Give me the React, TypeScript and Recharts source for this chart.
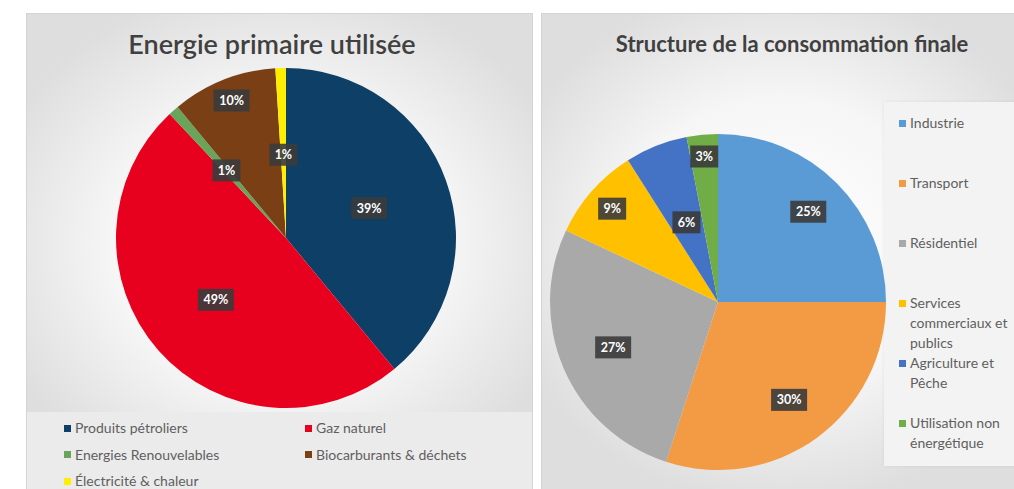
import React from 'react';
import { PieChart, Pie, Cell, Legend } from 'recharts';

// Energie primaire utilisée
const primaryNames = ['Produits pétroliers', 'Gaz naturel', 'Energies Renouvelables', 'Biocarburants & déchets', 'Électricité & chaleur'];
const primaryValues = [39, 49, 1, 10, 1];
const primaryColors = ['#0e3f66', '#e8001f', '#6aa35a', '#7b3f16', '#ffee00'];

// Structure de la consommation finale
const finalNames = ['Industrie', 'Transport', 'Résidentiel', 'Services commerciaux et publics', 'Agriculture et Pêche', 'Utilisation non énergétique'];
const finalValues = [25, 30, 27, 9, 6, 3];
const finalColors = ['#5b9bd5', '#f39a44', '#a9a9a9', '#ffc000', '#4472c4', '#70ad47'];

const primaryData = primaryNames.map((name, i) => ({ name, value: primaryValues[i] }));
const finalData = finalNames.map((name, i) => ({ name, value: finalValues[i] }));

// where Excel put each data label, as a fraction of the radius
const primaryLabelPos: Record<string, number> = {
  'Produits pétroliers': 0.52,
  'Gaz naturel': 0.55,
  'Energies Renouvelables': 0.53,
  'Biocarburants & déchets': 0.87,
  'Électricité & chaleur': 0.49,
};
const finalLabelPos: Record<string, number> = {
  'Industrie': 0.76,
  'Transport': 0.72,
  'Résidentiel': 0.68,
  'Services commerciaux et publics': 0.84,
  'Agriculture et Pêche': 0.51,
  'Utilisation non énergétique': 0.87,
};

const RADIAN = Math.PI / 180;
const FONT = 'Lato, "Open Sans", sans-serif';

const makeLabel = (pos: Record<string, number>) => (props: any) => {
  const { cx, cy, midAngle, outerRadius, name, value } = props;
  const r = outerRadius * (pos[name] ?? 0.55);
  const x = cx + r * Math.cos(-midAngle * RADIAN);
  const y = cy + r * Math.sin(-midAngle * RADIAN);
  const text = `${value}%`;
  const w = text.length * 8 + 12;
  return (
    <g>
      <rect x={x - w / 2} y={y - 11} width={w} height={22} fill="#3b3b3b" fillOpacity={0.9} />
      <text x={x} y={y} textAnchor="middle" dominantBaseline="central" fill="#ffffff" fontSize={12.5} fontWeight="bold" fontFamily={FONT}>
        {text}
      </text>
    </g>
  );
};

// recharts sorts legend items by name; put them back in series order
const inOrder = (payload: any[] | undefined, names: string[]) =>
  [...(payload || [])].sort((a, b) => names.indexOf(a.value) - names.indexOf(b.value));

const PrimaryLegend = (props: any) => (
  <div style={{ display: 'grid', gridTemplateColumns: '241px 220px', fontFamily: FONT, fontSize: 14, color: '#5f5f5f' }}>
    {inOrder(props.payload, primaryNames).map((entry: any, i: number) => (
      <div key={i} style={{ height: 26.5, lineHeight: '26.5px', whiteSpace: 'nowrap' }}>
        <span style={{ display: 'inline-block', width: 7, height: 7, background: entry.color, marginRight: 4, verticalAlign: 'middle', position: 'relative', top: -1 }} />
        {entry.value}
      </div>
    ))}
  </div>
);

const FinalLegend = (props: any) => (
  <div style={{ fontFamily: FONT, fontSize: 14, color: '#5f5f5f' }}>
    {inOrder(props.payload, finalNames).map((entry: any, i: number) => (
      <div key={i} style={{ height: 60, lineHeight: '20px', display: 'flex', alignItems: 'flex-start' }}>
        <span style={{ display: 'inline-block', width: 7, height: 7, background: entry.color, marginTop: 7, marginRight: 4, flex: 'none' }} />
        <span style={{ width: 104 }}>{entry.value}</span>
      </div>
    ))}
  </div>
);

const panelBg = 'radial-gradient(ellipse 60% 55% at 50% 48%, #ffffff 0%, #f6f6f6 55%, #dedede 100%)';

const App: React.FC = () => {
  return (
    <div style={{ position: 'absolute', left: 0, top: 0, width: 1014, height: 489, overflow: 'hidden', background: '#ffffff', fontFamily: FONT }}>
      {/* Left panel */}
      <div style={{ position: 'absolute', left: 26, top: 13, width: 507, height: 480, background: panelBg, border: '1px solid #d4d4d4', boxSizing: 'border-box' }}>
        <div style={{ position: 'absolute', left: 0, top: 398, width: 505, height: 82, background: '#ebebeb' }} />
        <div style={{ position: 'absolute', left: 45, top: 15, width: 400, textAlign: 'center', fontSize: 27, lineHeight: '30px', color: '#404040', fontWeight: 600 }}>
          Energie primaire utilisée
        </div>
        <div style={{ position: 'absolute', left: 0, top: 0 }}>
          <PieChart width={505} height={478}>
            <Pie
              data={primaryData}
              dataKey="value"
              nameKey="name"
              cx={254}
              cy={219}
              outerRadius={170}
              startAngle={90}
              endAngle={-270}
              stroke="none"
              labelLine={false}
              label={makeLabel(primaryLabelPos)}
              isAnimationActive={false}
            >
              {primaryData.map((entry, i) => (
                <Cell key={entry.name} fill={primaryColors[i]} />
              ))}
            </Pie>
            <Legend content={<PrimaryLegend />} wrapperStyle={{ position: 'absolute', left: 37, top: 401, width: 470, bottom: 'auto' }} />
          </PieChart>
        </div>
      </div>

      {/* Right panel */}
      <div style={{ position: 'absolute', left: 541, top: 13, width: 480, height: 480, background: panelBg, border: '1px solid #d4d4d4', boxSizing: 'border-box' }}>
        <div style={{ position: 'absolute', left: 342, top: 88, width: 140, height: 364, background: '#f3f3f3', boxShadow: '0 0 3px rgba(0,0,0,0.08)' }} />
        <div style={{ position: 'absolute', left: 0, top: 17, width: 500, textAlign: 'center', fontSize: 22, lineHeight: '26px', color: '#404040', fontWeight: 700 }}>
          Structure de la consommation finale
        </div>
        <div style={{ position: 'absolute', left: 0, top: 0 }}>
          <PieChart width={478} height={478}>
            <Pie
              data={finalData}
              dataKey="value"
              nameKey="name"
              cx={171}
              cy={283}
              outerRadius={168}
              startAngle={90}
              endAngle={-270}
              stroke="none"
              labelLine={false}
              label={makeLabel(finalLabelPos)}
              isAnimationActive={false}
            >
              {finalData.map((entry, i) => (
                <Cell key={entry.name} fill={finalColors[i]} />
              ))}
            </Pie>
            <Legend content={<FinalLegend />} wrapperStyle={{ position: 'absolute', left: 357, top: 99, width: 130, bottom: 'auto' }} />
          </PieChart>
        </div>
      </div>
    </div>
  );
};

export default App;
